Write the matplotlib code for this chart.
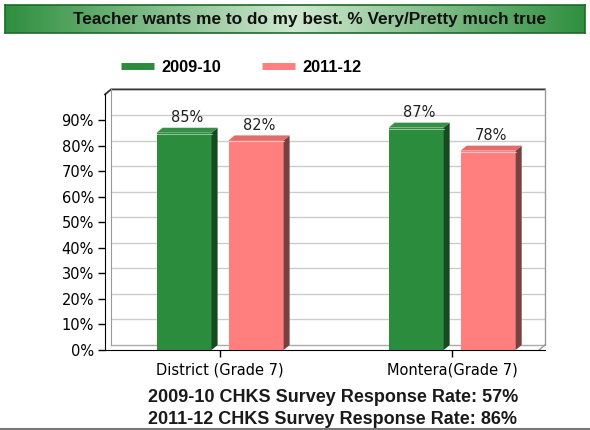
import numpy as np
import matplotlib
matplotlib.use("Agg")
import matplotlib.pyplot as plt
from matplotlib.patches import Polygon, Rectangle
from matplotlib.lines import Line2D
from matplotlib.colors import LinearSegmentedColormap

title = "Teacher wants me to do my best. % Very/Pretty much true"
categories = ["District (Grade 7)", "Montera(Grade 7)"]
series = ["2009-10", "2011-12"]
vals_0910 = [85, 87]
vals_1112 = [82, 78]
footer = ["2009-10 CHKS Survey Response Rate: 57%",
          "2011-12 CHKS Survey Response Rate: 86%"]

front = ["#2a8c3c", "#ff7f7f"]
side = ["#164a1f", "#7a3f3f"]
topc = ["#358f44", "#e06c6c"]

W, H = 590, 430
fig = plt.figure(figsize=(W / 100, H / 100), dpi=100)

# banner
bax = fig.add_axes([5 / W, 1 - 33 / H, 580 / W, 28 / H])
cmap = LinearSegmentedColormap.from_list("g", ["#2f8f3f", "#cfe8cf", "#2f8f3f"])
grad = np.linspace(0, 1, 256)[None, :]
bax.imshow(grad, aspect="auto", cmap=cmap, extent=[0, 1, 0, 1])
bax.set_xlim(0, 1)
bax.set_ylim(0, 1)
bax.set_xticks([])
bax.set_yticks([])
for s in bax.spines.values():
    s.set_color("#1e6a2a")
    s.set_linewidth(1.2)
bax.text(305 / 580, 0.48, title, ha="center", va="center", fontsize=12.4,
         fontweight="bold", family="Liberation Sans", color="#111111")

# main axes
ax = fig.add_axes([105 / W, 1 - 350 / H, 440 / W, 255.6 / H])
xmin, xmax = -0.496, 1.40
ax.set_xlim(xmin, xmax)
ax.set_ylim(0, 100)
for s in ["top", "right"]:
    ax.spines[s].set_visible(False)
ax.spines["left"].set_color("black")
ax.spines["bottom"].set_color("black")

dx = 6 / 232
dy = 5 / 2.556
bw = 0.237
off = 36 / 232
x = np.arange(len(categories))

# back wall gridlines and frame
for v in range(10, 100, 10):
    ax.plot([xmin + dx, xmax], [v + dy, v + dy], color="#cccccc", lw=1, zorder=0)
ax.plot([xmin + dx, xmax], [dy, dy], color="#aaaaaa", lw=1, zorder=0)
ax.plot([xmin, xmin + dx, xmax], [100, 100 + dy, 100 + dy], color="#333333",
        lw=1.3, clip_on=False)
ax.plot([xmax, xmax], [dy, 100 + dy], color="#999999", lw=1, clip_on=False)
ax.plot([xmin + dx, xmin + dx], [dy, 100 + dy], color="#999999", lw=0.8,
        clip_on=False)
ax.plot([xmax - dx, xmax], [0, dy], color="#999999", lw=1, clip_on=False)

for i, vals in enumerate([vals_0910, vals_1112]):
    sign = -1 if i == 0 else 1
    for xc, v in zip(x, vals):
        x0 = xc + sign * off - bw / 2
        x1 = x0 + bw
        ax.add_patch(Rectangle((x0, 0), bw, v, facecolor=front[i],
                               edgecolor="none", zorder=3))
        ax.add_patch(Polygon([(x1, 0), (x1 + dx, dy), (x1 + dx, v + dy), (x1, v)],
                             closed=True, facecolor=side[i], edgecolor="none",
                             zorder=3))
        ax.add_patch(Polygon([(x0, v), (x0 + dx, v + dy), (x1 + dx, v + dy), (x1, v)],
                             closed=True, facecolor=topc[i], edgecolor="none",
                             zorder=3))
        ax.plot([x0, x1], [v - 0.4, v - 0.4], color="#ffffff", alpha=0.5,
                lw=0.8, zorder=4)
        ax.text(xc + sign * off + dx / 2, v + dy + 1, f"{v}%", ha="center",
                va="bottom", fontsize=10.5, color="#222222")

ax.set_yticks(range(0, 100, 10))
ax.set_yticklabels([f"{v}%" for v in range(0, 100, 10)], fontsize=10.5)
ax.set_xticks(x)
ax.set_xticklabels(categories, fontsize=10.5)
ax.tick_params(axis="y", length=5, width=1, pad=3)
ax.tick_params(axis="x", length=5, width=1, pad=4)

# legend
handles = [Line2D([], [], color=front[0], lw=5, solid_capstyle="butt"),
           Line2D([], [], color=front[1], lw=5, solid_capstyle="butt")]
leg = fig.legend(handles, series, loc="center", ncol=2, frameon=False,
                 bbox_to_anchor=(241 / W, 1 - 67 / H), handlelength=2.0,
                 columnspacing=2.5, handletextpad=0.45,
                 prop={"family": "Liberation Sans", "weight": "bold", "size": 11.8})

# footer
fig.text(333 / W, 1 - 398 / H, footer[0], ha="center", va="center",
         fontsize=13, fontweight="bold", family="Liberation Sans", color="#1a1a1a")
fig.text(333 / W, 1 - 419 / H, footer[1], ha="center", va="center",
         fontsize=13, fontweight="bold", family="Liberation Sans", color="#1a1a1a")
fig.add_artist(Line2D([0, 1], [1 - 429 / H, 1 - 429 / H], color="#777777", lw=1.5))

fig.savefig("out.png", dpi=100)
